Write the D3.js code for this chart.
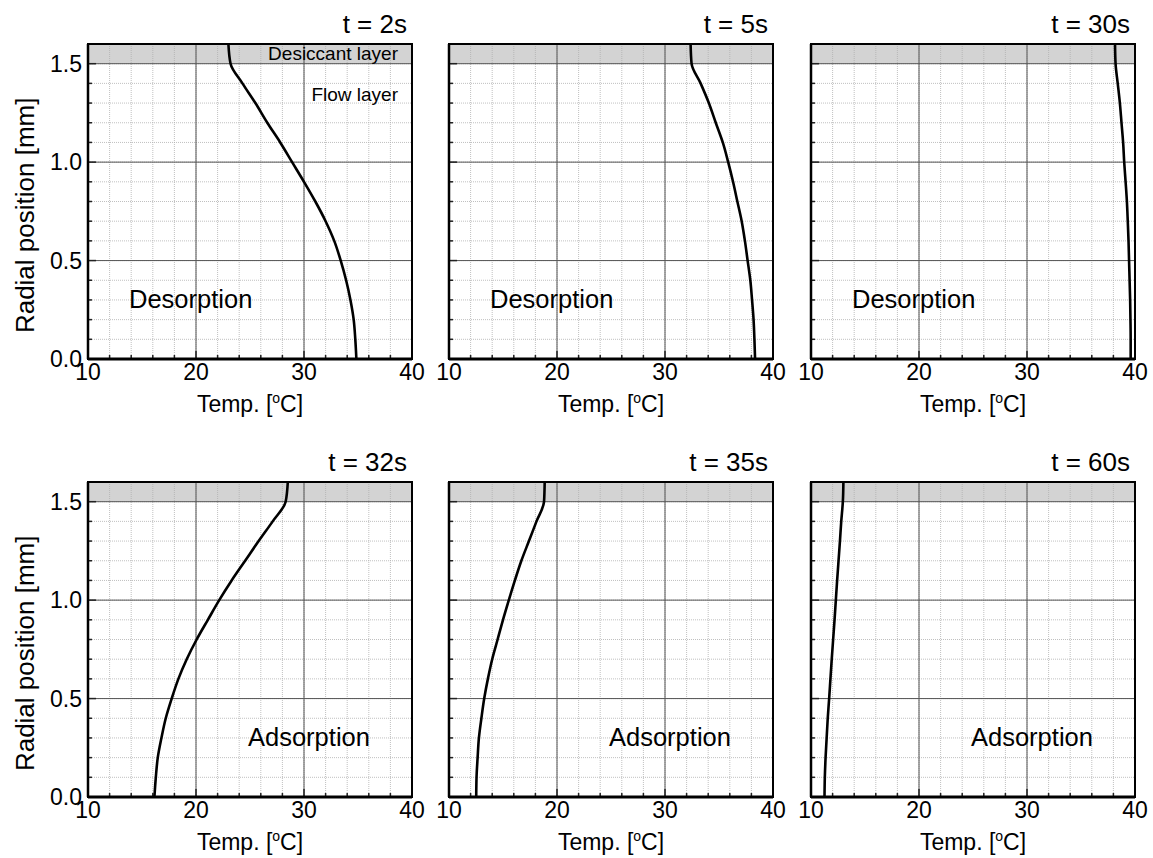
<!DOCTYPE html>
<html><head><meta charset="utf-8">
<script src="https://cdn.jsdelivr.net/npm/d3@7"></script>
<style>body{margin:0;background:#fff}svg{display:block}text{font-family:"Liberation Sans",Arial,sans-serif;fill:#000}</style>
</head><body><svg id="c" width="1153" height="858"></svg>
<script>
// Data
const radialPos = [0.0,0.1,0.2,0.3,0.4,0.5,0.6,0.7,0.8,0.9,1.0,1.1,1.2,1.3,1.4,1.5,1.6];
const panelTitles = ["t = 2s","t = 5s","t = 30s","t = 32s","t = 35s","t = 60s"];
const panelModes = ["Desorption","Desorption","Desorption","Adsorption","Adsorption","Adsorption"];
const temp_t2  = [34.85,34.75,34.6,34.3,33.9,33.4,32.8,32.0,31.05,30.0,28.9,27.8,26.6,25.5,24.3,23.2,23.0];
const temp_t5  = [38.34,38.28,38.2,38.06,37.9,37.65,37.4,37.1,36.7,36.3,35.85,35.35,34.7,34.06,33.3,32.46,32.37];
const temp_t30 = [39.6,39.6,39.58,39.55,39.5,39.45,39.4,39.33,39.25,39.13,39.0,38.9,38.75,38.6,38.4,38.2,38.15];
const temp_t32 = [16.15,16.28,16.46,16.8,17.2,17.75,18.37,19.14,20.06,21.1,22.15,23.3,24.55,25.8,27.1,28.3,28.5];
const temp_t35 = [12.52,12.55,12.65,12.77,13.0,13.26,13.6,14.0,14.5,15.0,15.54,16.1,16.7,17.4,18.1,18.8,18.86];
const temp_t60 = [11.25,11.28,11.35,11.45,11.55,11.68,11.8,11.92,12.05,12.18,12.3,12.42,12.55,12.68,12.8,12.95,13.0];
const panelSeries = [temp_t2,temp_t5,temp_t30,temp_t32,temp_t35,temp_t60];
const xDomain = [10,40];
const yDomain = [0,1.6];
const xTickLabels = ["10","20","30","40"];
const yTickLabels = ["0.0","0.5","1.0","1.5"];
const desiccantRange = [1.5,1.6];

const svg = d3.select("#c");
const colX = [88,449,811], rowY = [44,482];
const W = 324, H = 315;

panelSeries.forEach((series,i)=>{
  const col = i%3, row = Math.floor(i/3);
  const px = colX[col], py = rowY[row];
  const x = d3.scaleLinear().domain(xDomain).range([px,px+W]);
  const y = d3.scaleLinear().domain(yDomain).range([py+H,py]);
  const g = svg.append("g");
  g.append("rect").attr("x",px).attr("y",py).attr("width",W).attr("height",H).attr("fill","#fff");
  g.append("rect").attr("x",px).attr("y",y(desiccantRange[1])).attr("width",W)
    .attr("height",y(desiccantRange[0])-y(desiccantRange[1])).attr("fill","#d3d3d3");
  const minorX = x.ticks(15), minorY = y.ticks(16);
  const majorX = x.ticks(3), majorY = y.ticks(3);
  g.selectAll(".mx").data(minorX).join("line").attr("x1",d=>x(d)).attr("x2",d=>x(d)).attr("y1",py).attr("y2",py+H)
    .attr("stroke","#b0b0b0").attr("stroke-width",0.8).attr("stroke-dasharray","1,1");
  g.selectAll(".my").data(minorY).join("line").attr("y1",d=>y(d)).attr("y2",d=>y(d)).attr("x1",px).attr("x2",px+W)
    .attr("stroke","#b0b0b0").attr("stroke-width",0.8).attr("stroke-dasharray","1,1");
  g.selectAll(".Mx").data(majorX).join("line").attr("x1",d=>x(d)).attr("x2",d=>x(d)).attr("y1",py).attr("y2",py+H)
    .attr("stroke","#555").attr("stroke-width",1);
  g.selectAll(".My").data(majorY).join("line").attr("y1",d=>y(d)).attr("y2",d=>y(d)).attr("x1",px).attr("x2",px+W)
    .attr("stroke","#555").attr("stroke-width",1);
  // ticks
  g.selectAll(".tx").data(minorX).join("line").attr("x1",d=>x(d)).attr("x2",d=>x(d))
    .attr("y1",py+H).attr("y2",d=>py+H-(majorX.includes(d)?8:4)).attr("stroke","#222").attr("stroke-width",1.5);
  g.selectAll(".ty").data(minorY).join("line").attr("y1",d=>y(d)).attr("y2",d=>y(d))
    .attr("x1",px).attr("x2",d=>px+(majorY.some(m=>Math.abs(m-d)<1e-9)?8:4)).attr("stroke","#222").attr("stroke-width",1.5);
  // curve
  const line = d3.line().x(d=>x(d[0])).y(d=>y(d[1])).curve(d3.curveMonotoneY);
  g.append("path").datum(series.map((v,k)=>[v,radialPos[k]])).attr("d",line)
    .attr("fill","none").attr("stroke","#000").attr("stroke-width",2.6).attr("stroke-linejoin","round");
  // frame
  g.append("rect").attr("x",px).attr("y",py).attr("width",W).attr("height",H)
    .attr("fill","none").attr("stroke","#000").attr("stroke-width",2);
  g.append("line").attr("x1",px).attr("x2",px+W).attr("y1",py+H).attr("y2",py+H).attr("stroke","#000").attr("stroke-width",3);
  g.append("line").attr("x1",px).attr("x2",px).attr("y1",py).attr("y2",py+H).attr("stroke","#000").attr("stroke-width",2.5);
  // x tick labels
  g.selectAll(".xl").data(majorX).join("text").attr("x",d=>x(d)).attr("y",py+H+21)
    .attr("text-anchor","middle").attr("font-size",23).text((d,k)=>xTickLabels[k]);
  // x axis label
  const xl = g.append("text").attr("x",px+W/2).attr("y",py+H+53).attr("text-anchor","middle").attr("font-size",23);
  xl.append("tspan").text("Temp. [");
  xl.append("tspan").attr("font-size",14).attr("dy",-9).text("o");
  xl.append("tspan").attr("dy",9).text("C]");
  if(col===0){
    g.selectAll(".yl").data(majorY).join("text").attr("x",px-6).attr("y",d=>y(d)+8)
      .attr("text-anchor","end").attr("font-size",23).text((d,k)=>yTickLabels[k]);
    g.append("text").attr("transform",`translate(34,${y(0.75)+4}) rotate(-90)`).attr("text-anchor","middle")
      .attr("font-size",26).text("Radial position [mm]");
  }
  g.append("text").attr("x",px+W-5).attr("y",py-11).attr("text-anchor","end").attr("font-size",26).text(panelTitles[i]);
  const modeX = row===0 ? px+41 : px+160;
  const modeY = y(0.3)+8;
  g.append("text").attr("x",modeX).attr("y",modeY).attr("font-size",25.5).text(panelModes[i]);
  if(i===0){
    g.append("text").attr("x",px+W-14).attr("y",py+16).attr("text-anchor","end").attr("font-size",19).text("Desiccant layer");
    g.append("text").attr("x",px+W-14).attr("y",py+57).attr("text-anchor","end").attr("font-size",19).text("Flow layer");
  }
});
</script></body></html>
